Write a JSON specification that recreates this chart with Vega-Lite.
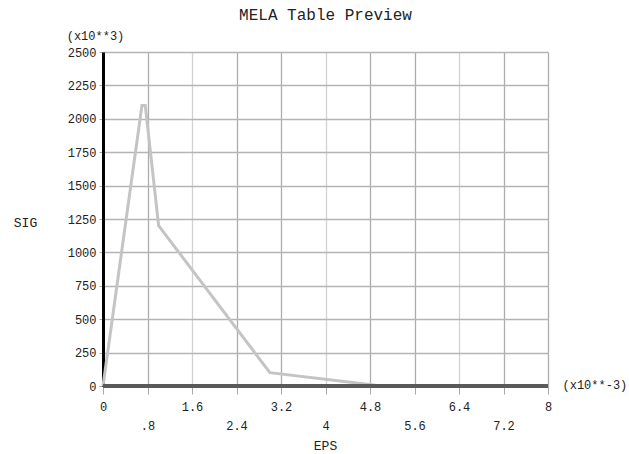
{
  "$schema": "https://vega.github.io/schema/vega-lite/v6.json",
  "autosize": "none",
  "width": 445,
  "height": 334,
  "padding": {"left": 103, "top": 52, "right": 81, "bottom": 68},
  "background": "white",
  "title": {"text": "MELA Table Preview", "font": "Liberation Mono", "fontSize": 16, "fontWeight": "normal", "color": "#222", "anchor": "middle", "offset": 6},
  "config": {"view": {"stroke": null}, "axis": {"labelFont": "Liberation Mono", "titleFont": "Liberation Mono", "labelColor": "#222", "titleColor": "#222", "titleFontWeight": "normal"}},
  "data": {"values": [
    {"eps": 0, "sig": 0},
    {"eps": 0.7, "sig": 2100},
    {"eps": 0.76, "sig": 2100},
    {"eps": 1.0, "sig": 1200},
    {"eps": 3.0, "sig": 100},
    {"eps": 4.9, "sig": 5}
  ]},
  "layer": [
    {
      "mark": {"type": "line", "color": "#c4c4c4", "strokeWidth": 3, "clip": false},
      "encoding": {
        "x": {"field": "eps", "type": "quantitative",
          "scale": {"domain": [0, 8], "nice": false, "zero": false},
          "axis": {"orient": "bottom", "values": [0, 0.8, 1.6, 2.4, 3.2, 4, 4.8, 5.6, 6.4, 7.2, 8],
            "labelExpr": "datum.index * 10 % 2 == 1 ? ['', ['0','.8','1.6','2.4','3.2','4','4.8','5.6','6.4','7.2','8'][round(datum.value/0.8)]] : ['0','.8','1.6','2.4','3.2','4','4.8','5.6','6.4','7.2','8'][round(datum.value/0.8)]",
            "labelOverlap": false, "labelFlush": false, "labelFontSize": 12, "labelLineHeight": 19, "labelPadding": 7, "labelBaseline": "top",
            "domain": false, "tickSize": 8, "tickColor": "#a8a8a8",
            "grid": true, "gridColor": {"condition": {"test": "round(datum.value/0.8) % 3 == 2", "value": "#d2d2d2"}, "value": "#acacac"}, "gridWidth": 1.3, "gridOpacity": 1,
            "title": "EPS", "titleFontSize": 13, "titleX": 222, "titleY": 59, "titleAlign": "center", "titleBaseline": "middle"}},
        "y": {"field": "sig", "type": "quantitative",
          "scale": {"domain": [0, 2500], "nice": false},
          "axis": {"orient": "left", "values": [0, 250, 500, 750, 1000, 1250, 1500, 1750, 2000, 2250, 2500], "format": "d",
            "labelFontSize": 12, "labelPadding": 3, "tickSize": 4, "tickColor": "#a8a8a8",
            "domain": true, "domainColor": "#000", "domainWidth": 3,
            "grid": true, "gridColor": "#b4b4b4", "gridWidth": 1.3, "gridOpacity": 1,
            "title": "SIG", "titleAngle": 0, "titleFontSize": 13, "titleX": -78, "titleY": 170, "titleAlign": "center", "titleBaseline": "middle"}}
      }
    },
    {
      "mark": {"type": "rule", "color": "#5a5a5a", "strokeWidth": 4},
      "encoding": {
        "x": {"datum": 0, "type": "quantitative",
          "axis": {"orient": "top", "labels": false, "ticks": false, "domain": false, "grid": false,
            "title": "(x10**3)", "titleFontSize": 12, "titleX": -8, "titleY": -17, "titleAlign": "center", "titleBaseline": "middle"}},
        "x2": {"datum": 8},
        "y": {"datum": 0, "type": "quantitative",
          "axis": {"orient": "right", "labels": false, "ticks": false, "domain": false, "grid": false,
            "title": "(x10**-3)", "titleAngle": 0, "titleFontSize": 12, "titleX": 14, "titleY": 332, "titleAlign": "left", "titleBaseline": "middle"}}
      }
    }
  ],
  "resolve": {"axis": {"x": "independent", "y": "independent"}}
}
